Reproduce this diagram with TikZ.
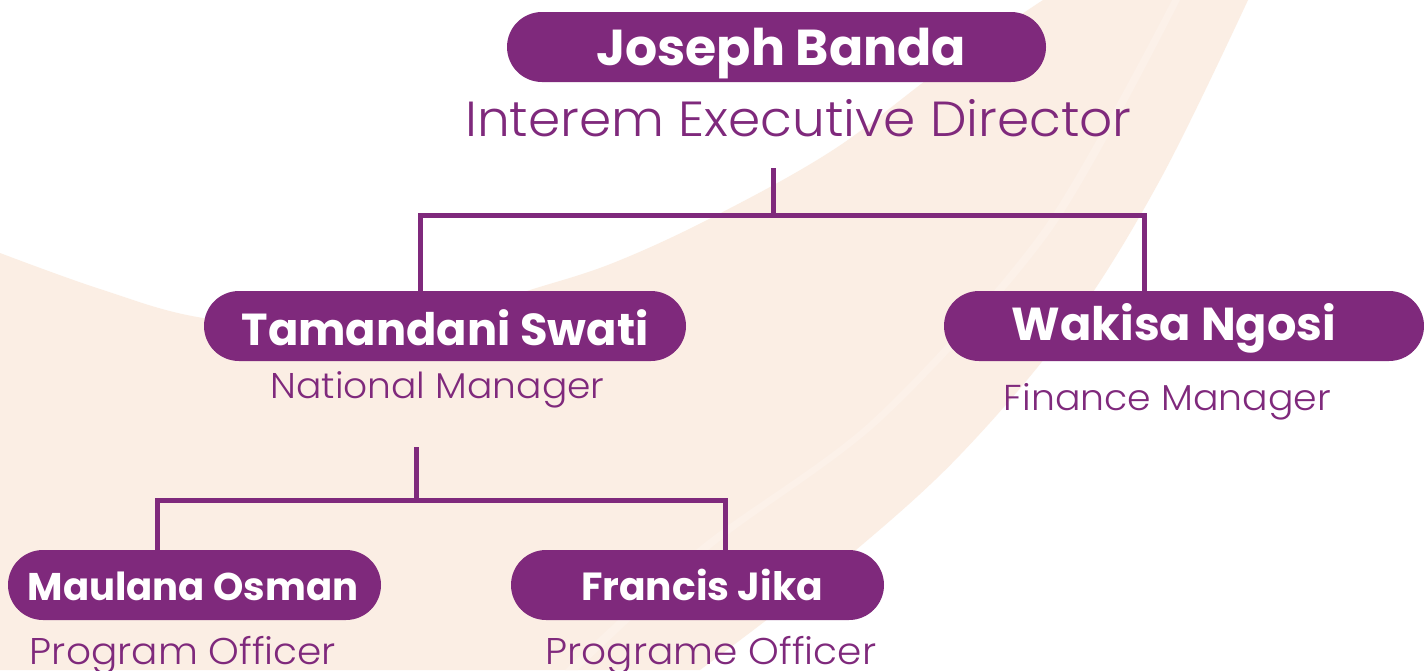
\documentclass[tikz,border=0pt]{standalone}
\usepackage{fontspec}
\newfontfamily\namefont{Poppins Bold}
\newfontfamily\lightfont{Poppins Light}[FakeStretch=1.05]
\definecolor{purp}{HTML}{7F297C}
\definecolor{peach}{HTML}{FBEEE4}
\definecolor{peachlt}{HTML}{FCF1E9}
\begin{document}
\begin{tikzpicture}[x=1pt,y=-1pt,
  pill/.style={fill=purp, draw=none, rounded corners=35pt, minimum height=70pt, inner sep=0pt},
  nm/.style={text=white, inner sep=0pt, anchor=base},
  ttl/.style={text=purp, inner sep=0pt, anchor=base},
  conn/.style={draw=purp, line width=5pt, line join=miter}]
\useasboundingbox (0,0) rectangle (1424,670);
\fill[white] (0,0) rectangle (1424,670);
% background band
\fill[peach] plot[smooth, tension=0.6] coordinates {(0,253) (100,289) (203,318) (350,330) (460,312) (530,290) (613,263) (713,217) (833,150) (940,70) (1043,0)}
  -- (1248,0)
  -- plot[smooth, tension=0.6] coordinates {(1248,0) (1160,180) (1070,325) (960,455) (850,555) (760,625) (700,670)}
  -- (0,670) -- cycle;
\fill[peachlt] plot[smooth] coordinates {(1172,0) (1042,230) (872,420) (702,545) (565,670)}
  -- plot[smooth] coordinates {(578,670) (712,547) (882,420) (1052,230) (1180,0)} -- cycle;
% pills
\node[pill, minimum width=539pt] (jb) at (776.5,47) {};
\node[pill, minimum width=482pt] (ts) at (445,326) {};
\node[pill, minimum width=480pt] (wn) at (1184,326) {};
\node[pill, minimum width=373pt] (mo) at (194.5,585) {};
\node[pill, minimum width=373pt] (fj) at (697.5,585) {};
% names
\node[nm, font={\namefont\fontsize{50.5}{60}\selectfont}] (jbt) at (781,65) {Joseph Banda};
\node[nm, font={\namefont\fontsize{44.8}{52}\selectfont}] (tst) at (445,345) {Tamandani Swati};
\node[nm, font={\namefont\fontsize{46.2}{56}\selectfont}] (wnt) at (1174,340) {Wakisa Ngosi};
\node[nm, font={\namefont\fontsize{38.6}{46}\selectfont}] (mot) at (193,600) {Maulana Osman};
\node[nm, font={\namefont\fontsize{39.2}{46}\selectfont}] (fjt) at (702,600) {Francis Jika};
% titles
\node[ttl, font={\lightfont\fontsize{49.3}{60}\selectfont}] (jbr) at (798.5,136) {Interem Executive Director};
\node[ttl, font={\lightfont\fontsize{35.8}{42}\selectfont}] (tsr) at (437.5,398) {National Manager};
\node[ttl, font={\lightfont\fontsize{36}{42}\selectfont}] (wnr) at (1167.5,410) {Finance Manager};
\node[ttl, font={\lightfont\fontsize{37.2}{44}\selectfont}] (mor) at (183,664) {Program Officer};
\node[ttl, font={\lightfont\fontsize{37.2}{44}\selectfont}] (fjr) at (711,664) {Programe Officer};
% connectors
\coordinate (j0) at (773,168);
\coordinate (tsT) at (420,291);
\coordinate (wnT) at (1144,291);
\coordinate (t0) at (416,447);
\coordinate (moT) at (157,550);
\coordinate (fjT) at (725,550);
\draw[conn] (j0) -- (j0 |- 0,215.5);
\draw[conn] (tsT) -- (tsT |- 0,215.5) -| (wnT);
\draw[conn] (t0) -- (t0 |- 0,500);
\draw[conn] (moT) -- (moT |- 0,500) -| (fjT);
\end{tikzpicture}
\end{document}
